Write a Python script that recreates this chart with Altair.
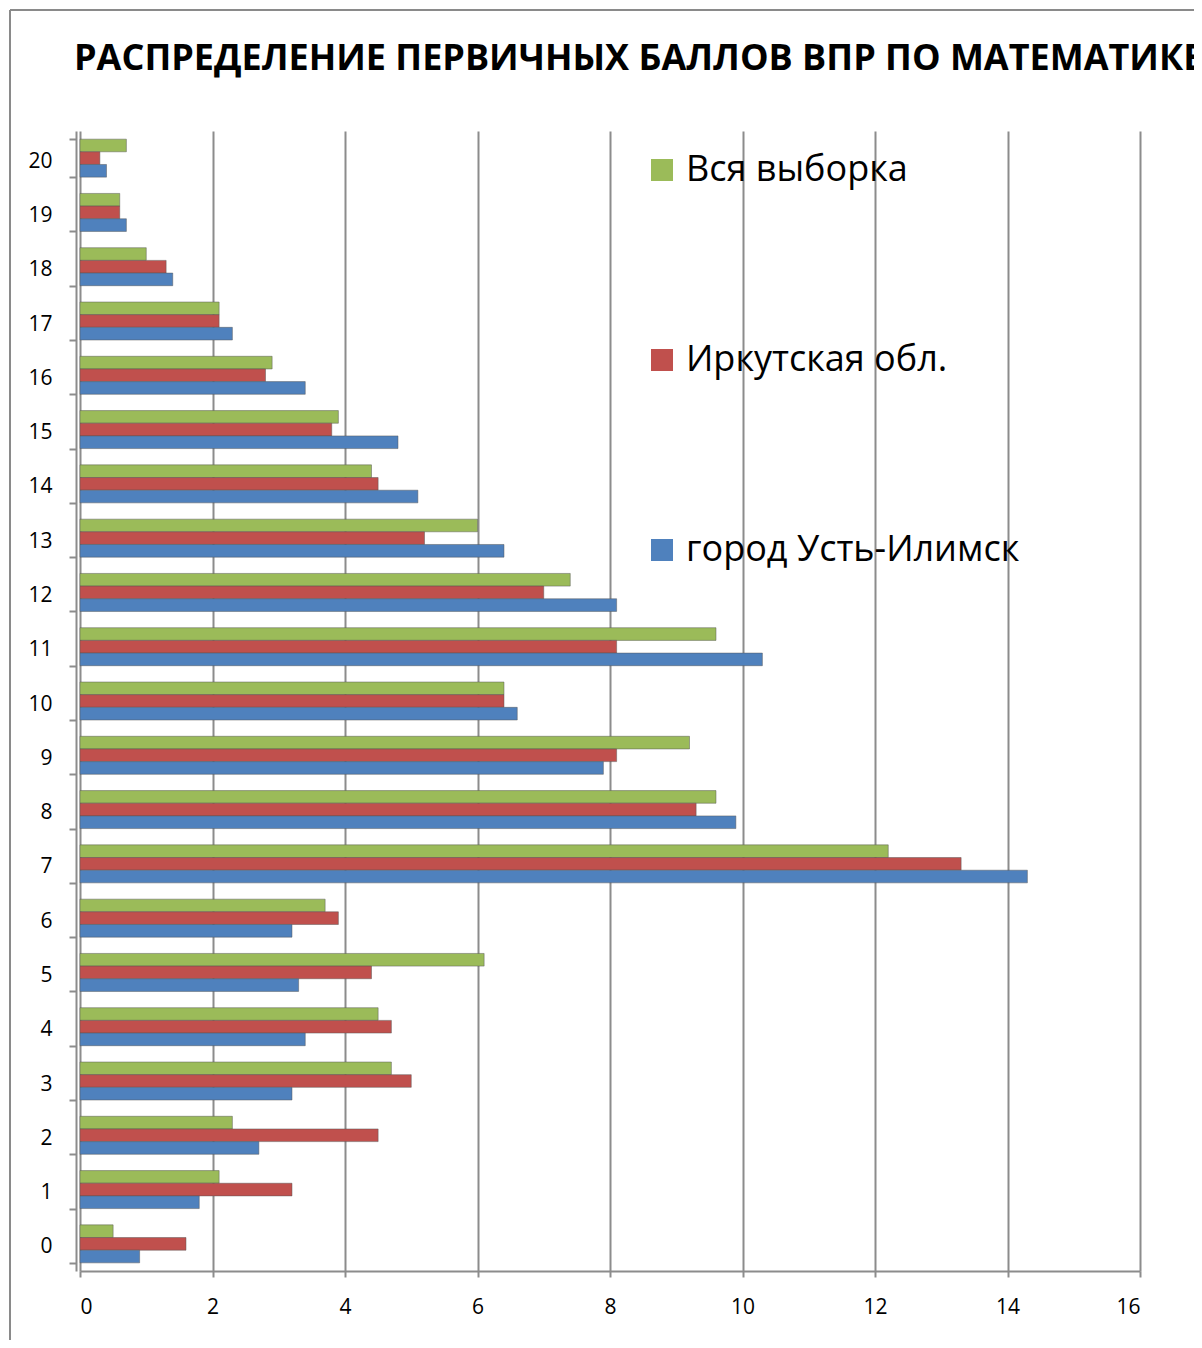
import altair as alt
import pandas as pd

scores = list(range(21))
series_names = ["Вся выборка", "Иркутская обл.", "город Усть-Илимск"]
all_sample = [0.5, 2.1, 2.3, 4.7, 4.5, 6.1, 3.7, 12.2, 9.6, 9.2, 6.4, 9.6, 7.4, 6.0, 4.4, 3.9, 2.9, 2.1, 1.0, 0.6, 0.7]
irkutsk = [1.6, 3.2, 4.5, 5.0, 4.7, 4.4, 3.9, 13.3, 9.3, 8.1, 6.4, 8.1, 7.0, 5.2, 4.5, 3.8, 2.8, 2.1, 1.3, 0.6, 0.3]
city = [0.9, 1.8, 2.7, 3.2, 3.4, 3.3, 3.2, 14.3, 9.9, 7.9, 6.6, 10.3, 8.1, 6.4, 5.1, 4.8, 3.4, 2.3, 1.4, 0.7, 0.4]
colors = ["#9BBB59", "#C0504D", "#4F81BD"]
x_ticks = [0, 2, 4, 6, 8, 10, 12, 14, 16]
title_text = "РАСПРЕДЕЛЕНИЕ ПЕРВИЧНЫХ БАЛЛОВ ВПР ПО МАТЕМАТИКЕ"

rows = []
for name, vals in zip(series_names, [all_sample, irkutsk, city]):
    for s, v in zip(scores, vals):
        rows.append({"score": s, "series": name, "value": v})
df = pd.DataFrame(rows)

FONT = "Open Sans"
GRID = "#8c8c8c"

bars = alt.Chart(df).mark_bar(strokeWidth=0.8, strokeOpacity=0.6, stroke="#555555").encode(
    x=alt.X("value:Q", scale=alt.Scale(domain=[0, 16], nice=False, zero=True),
            axis=alt.Axis(values=x_ticks, title=None, grid=True, gridColor=GRID, gridWidth=2,
                          domainColor=GRID, domainWidth=2, tickColor=GRID, tickWidth=2,
                          tickSize=6, labelFont=FONT, labelFontSize=21, labelColor="black",
                          labelPadding=19)),
    y=alt.Y("score:O", sort="descending",
            scale=alt.Scale(paddingInner=0.3, paddingOuter=0.15),
            axis=alt.Axis(title=None, tickBand="extent", grid=False, domainColor=GRID,
                          domainWidth=2, tickColor=GRID, tickWidth=2, tickSize=7,
                          labelPadding=17, labelFont=FONT, labelFontSize=21,
                          labelColor="black", offset=4, labelOffset=3)),
    yOffset=alt.YOffset("series:N", sort=series_names, scale=alt.Scale(paddingInner=0, paddingOuter=0)),
    color=alt.Color("series:N", scale=alt.Scale(domain=series_names, range=colors),
                    legend=alt.Legend(orient="none", legendX=564, legendY=21, title=None,
                                      symbolType="square", symbolSize=484, symbolStrokeWidth=0,
                                      labelFont=FONT, labelFontSize=36, labelColor="black",
                                      labelLimit=700, rowPadding=154, labelOffset=6)),
)

one = pd.DataFrame({"k": [0]})
frame_v = alt.Chart(one).mark_rule(color="#8a8a8a", strokeWidth=2).encode(
    x=alt.value(-70), y=alt.value(-121), y2=alt.value(1209))
frame_h = alt.Chart(one).mark_rule(color="#8a8a8a", strokeWidth=2).encode(
    y=alt.value(-121), x=alt.value(-70), x2=alt.value(1114))
title = alt.Chart(one).mark_text(text=title_text, align="left", baseline="alphabetic",
                                 font=FONT, fontSize=36, fontWeight="bold", color="black").encode(
    x=alt.value(-6), y=alt.value(-61))

chart = alt.layer(frame_v, frame_h, bars, title).properties(
    width=1060, height=1140,
    autosize=alt.AutoSizeParams(type="none"),
    padding={"left": 72, "top": 123, "right": 54, "bottom": 69},
).configure_view(stroke=None)

chart.save("out.html", embed_options={"renderer": "svg", "actions": False})
